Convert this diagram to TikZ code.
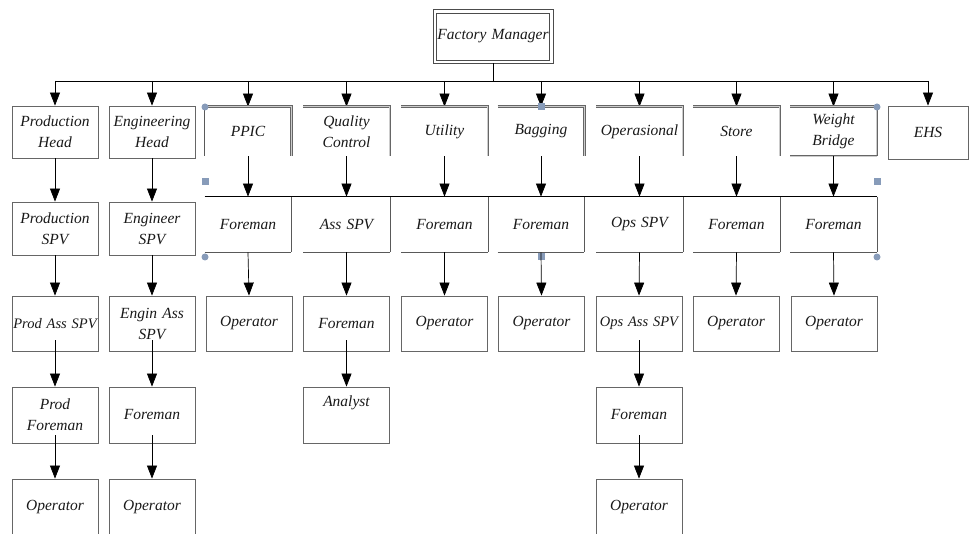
\documentclass[tikz,border=0pt]{standalone}
\usepackage{fontspec}
\setmainfont{Liberation Serif}
\usetikzlibrary{arrows.meta}
\definecolor{handlecol}{RGB}{135,155,185}

\begin{document}
\begin{tikzpicture}[x=1pt,y=-1pt,
  box/.style={draw=black!60, line width=0.8pt, minimum width=86pt, minimum height=54pt,
    text width=86pt, align=center, inner sep=0pt,
    font=\fontsize{15.5}{21}\selectfont\itshape, text=black!90},
  head/.style={box, draw=none},
  arr/.style={-{Triangle[length=13pt,width=10pt]}, line width=0.7pt},
  dbl/.style={draw=black!60, double=black!20, double distance=1pt, line width=0.6pt},
  edge/.style={draw=black!65, line width=0.8pt},
  handle/.style={fill=handlecol, draw=none}]
  \useasboundingbox (0,0) rectangle (970,534);

  % Top
  \node[box, draw=black!70, minimum width=113pt, text width=113pt, minimum height=47pt] (fm) at (493,36.5) {Factory Manager};
  \draw[draw=black!70, line width=0.8pt] ([shift={(-3pt,3pt)}]fm.north west) rectangle ([shift={(3pt,-3pt)}]fm.south east);

  % First level
  \node[box, minimum height=52pt] (ph) at (55,132) {Production\\Head};
  \node[box, minimum height=52pt] (eh) at (152,132) {Engineering\\Head};
  \node[head, minimum height=49pt] (ppic) at (248,131.5) {PPIC};
  \node[head, minimum height=49pt] (qc) at (346.5,131.5) {Quality\\Control};
  \node[head, minimum height=49pt] (util) at (444.5,131.5) {Utility};
  \node[head, minimum height=49pt] (bag) at (541,131.5) {Bagging};
  \node[head, minimum height=49pt] (ops) at (639.5,131.5) {Operasional};
  \node[head, minimum height=49pt] (store) at (736.5,131.5) {Store};
  \node[head, minimum height=49pt] (wb) at (833.5,131.5) {Weight\\Bridge};
  \node[box, minimum width=80pt, text width=80pt, minimum height=53pt] (ehs) at (928,132.5) {EHS};

  % Bus
  \draw[line width=0.7pt] ([yshift=-3pt]fm.south) -- (493,81) coordinate (bus);
  \draw[line width=0.7pt] (ph.north |- bus) -- (ehs.north |- bus);
  \foreach \n in {ph,eh,ppic,qc,util,bag,ops,store,wb,ehs}
    \draw[arr] (\n.north |- bus) -- (\n.north);

  % Open borders of the grouped heads
  \foreach \n in {ppic,qc,util,bag,ops,store,wb}
    \draw[dbl] (\n.north west) -- (\n.north east) -- (\n.south east);
  \draw[edge] (ppic.north west) -- (ppic.south west);
  \draw[dbl] (wb.south west) -- (wb.south east);

  % Second level
  \node[box, minimum height=53pt] (psp) at (55,228.5) {Production\\SPV};
  \node[box, minimum height=53pt] (esp) at (152,228.5) {Engineer\\SPV};
  \node[head, minimum height=55pt] (ppicf) at (248,224.5) {Foreman};
  \node[head, minimum height=55pt] (qcs) at (346.5,224.5) {Ass SPV};
  \node[head, minimum height=55pt] (utilf) at (444.5,224.5) {Foreman};
  \node[head, minimum height=55pt] (bagf) at (541,224.5) {Foreman};
  \node[head, minimum height=55pt] (opss) at (639.5,224.5) {Ops SPV};
  \node[head, minimum height=55pt] (storef) at (736.5,224.5) {Foreman};
  \node[head, minimum height=55pt] (wbf) at (833.5,224.5) {Foreman};

  \draw[line width=0.8pt] (ppicf.north west) -- (wbf.north east);
  \foreach \n in {ppicf,qcs,utilf,bagf,opss,storef,wbf} {
    \draw[edge] (\n.north east) -- (\n.south east);
    \draw[edge] (\n.south west) -- (\n.south east);
  }

  \foreach \a/\b in {ph/psp,eh/esp,ppic/ppicf,qc/qcs,util/utilf,bag/bagf,ops/opss,store/storef,wb/wbf}
    \draw[arr] (\a.south) -- (\b.north);

  % Selection handles
  \fill[handle] (205,107) circle (3.5pt);
  \fill[handle] (205,257) circle (3.5pt);
  \fill[handle] (877,107) circle (3.5pt);
  \fill[handle] (877,257) circle (3.5pt);
  \fill[handle] (201.5,178.5) rectangle ++(7,7);
  \fill[handle] (537.5,103.5) rectangle ++(7,7);
  \fill[handle] (537.5,253.5) rectangle ++(7,7);
  \fill[handle] (873.5,178.5) rectangle ++(7,7);

  % Third level
  \node[box, minimum height=55pt, font=\fontsize{14.5}{21}\selectfont\itshape] (pas) at (55,323.5) {Prod Ass SPV};
  \node[box, minimum height=55pt] (eas) at (152,323.5) {Engin Ass\\SPV};
  \node[box, minimum height=55pt] (ppico) at (249,323.5) {Operator};
  \node[box, minimum height=55pt] (qcf) at (346.5,323.5) {Foreman};
  \node[box, minimum height=55pt] (utilo) at (444.5,323.5) {Operator};
  \node[box, minimum height=55pt] (bago) at (541.5,323.5) {Operator};
  \node[box, minimum height=55pt, font=\fontsize{14.5}{21}\selectfont\itshape] (opsas) at (639,323.5) {Ops Ass SPV};
  \node[box, minimum height=55pt] (storeo) at (736,323.5) {Operator};
  \node[box, minimum height=55pt] (wbo) at (834,323.5) {Operator};

  \foreach \a/\b in {psp/pas,esp/eas,ppicf/ppico,qcs/qcf,utilf/utilo,bagf/bago,opss/opsas,storef/storeo,wbf/wbo}
    \draw[arr] (\a.south) -- (\b.north);

  % Fourth level
  \node[box, minimum height=56pt] (pf) at (55,415) {Prod\\Foreman};
  \node[box, minimum height=56pt] (ef) at (152,415) {Foreman};
  \node[box, minimum height=56pt] (qca) at (346.5,415) {Analyst\\\strut};
  \node[box, minimum height=56pt] (opsf) at (639,415) {Foreman};

  \foreach \a/\b in {pas/pf,eas/ef,qcf/qca,opsas/opsf}
    \draw[arr] ([yshift=11pt]\a.south) -- (\b.north);

  % Fifth level
  \node[box, minimum height=57pt] (po) at (55,507.5) {Operator};
  \node[box, minimum height=57pt] (eo) at (152,507.5) {Operator};
  \node[box, minimum height=57pt] (opso) at (639,507.5) {Operator};

  \foreach \a/\b in {pf/po,ef/eo,opsf/opso}
    \draw[arr] ([yshift=8pt]\a.south) -- (\b.north);
\end{tikzpicture}
\end{document}
